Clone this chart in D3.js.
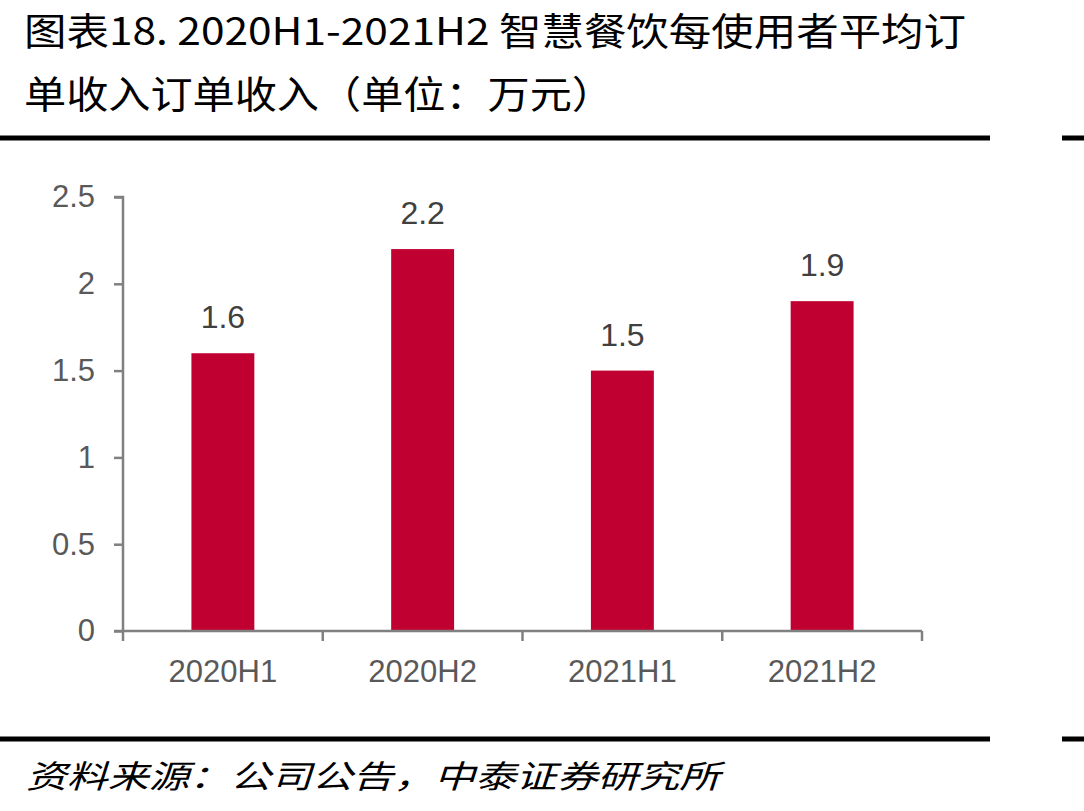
<!DOCTYPE html>
<html><head><meta charset="utf-8">
<script src="https://cdn.jsdelivr.net/npm/d3@7"></script>
<style>body{margin:0;background:#fff}svg{display:block}</style>
</head><body>
<script>
const categories = ["2020H1","2020H2","2021H1","2021H2"];
const values = [1.6, 2.2, 1.5, 1.9];
const yTicks = [0, 0.5, 1, 1.5, 2, 2.5];
const titleLines = ["图表18. 2020H1-2021H2 智慧餐饮每使用者平均订", "单收入订单收入（单位：万元）"];
const sourceText = "资料来源：公司公告，中泰证券研究所";

const W = 1084, H = 811;
const svg = d3.select("body").append("svg").attr("width", W).attr("height", H);

const cjk = "'Noto Sans CJK SC', sans-serif";
const lat = "'Liberation Sans', Arial, sans-serif";

// title
svg.append("text").attr("x", 24).attr("y", 45).attr("font-family", cjk).attr("font-size", 38)
  .attr("fill", "#000").attr("textLength", 942).attr("lengthAdjust", "spacingAndGlyphs").text(titleLines[0]);
svg.append("text").attr("x", 24).attr("y", 108).attr("font-family", cjk).attr("font-size", 38)
  .attr("fill", "#000").attr("textLength", 590).attr("lengthAdjust", "spacingAndGlyphs").text(titleLines[1]);

// rules
[138, 739].forEach(y => {
  svg.append("rect").attr("x", 0).attr("y", y - 2.5).attr("width", 990).attr("height", 5).attr("fill", "#000");
  svg.append("rect").attr("x", 1062).attr("y", y - 2.5).attr("width", 22).attr("height", 5).attr("fill", "#000");
});

// source
svg.append("text").attr("x", 26).attr("y", 788).attr("font-family", cjk).attr("font-size", 32)
  .attr("font-style", "italic").attr("fill", "#000")
  .attr("textLength", 694).attr("lengthAdjust", "spacingAndGlyphs").text(sourceText);

const x0 = 123, x1 = 922, yBase = 631, yTop = 197;
const x = d3.scaleBand().domain(categories).range([x0, x1]).paddingInner(0.685).paddingOuter(0.3425);
const y = d3.scaleLinear().domain([0, 2.5]).range([yBase, yTop]);

const axisColor = "#808080";
const labelColor = "#595959";

// bars
svg.selectAll("rect.bar").data(values).join("rect").attr("class","bar")
  .attr("x", (d,i) => x(categories[i])).attr("width", x.bandwidth())
  .attr("y", d => y(d)).attr("height", d => yBase - y(d)).attr("fill", "#C00031");

// y axis
const yAxis = svg.append("g").attr("transform", `translate(${x0},0)`)
  .call(d3.axisLeft(y).tickValues(yTicks).tickFormat(d3.format("")).tickSize(9).tickPadding(19));
yAxis.select(".domain").attr("stroke", axisColor).attr("stroke-width", 2.5).attr("d", `M-9,${yTop}H0V${yBase}`);
yAxis.selectAll(".tick line").attr("stroke", axisColor).attr("stroke-width", 2.5);
yAxis.selectAll(".tick text").attr("font-family", lat).attr("font-size", 31).attr("fill", labelColor);

// x axis
const xBound = d3.scaleLinear().domain([0, categories.length]).range([x0, x1]);
const xg = svg.append("g");
xg.append("line").attr("x1", x0 - 9).attr("x2", x1).attr("y1", yBase).attr("y2", yBase)
  .attr("stroke", axisColor).attr("stroke-width", 2.5);
xg.selectAll("line.t").data(d3.range(categories.length + 1)).join("line").attr("class","t")
  .attr("x1", d => xBound(d)).attr("x2", d => xBound(d)).attr("y1", yBase).attr("y2", yBase + 10)
  .attr("stroke", axisColor).attr("stroke-width", 2.5);
xg.selectAll("text").data(categories).join("text")
  .attr("x", d => x(d) + x.bandwidth()/2).attr("y", 682).attr("text-anchor", "middle")
  .attr("font-family", lat).attr("font-size", 31).attr("fill", labelColor).text(d => d);

// data labels
svg.selectAll("text.dl").data(values).join("text").attr("class","dl")
  .attr("x", (d,i) => x(categories[i]) + x.bandwidth()/2).attr("y", d => y(d) - 25)
  .attr("text-anchor", "middle").attr("font-family", lat).attr("font-size", 32).attr("fill", "#404040")
  .text(d => d3.format(".1f")(d));
</script>
</body></html>
